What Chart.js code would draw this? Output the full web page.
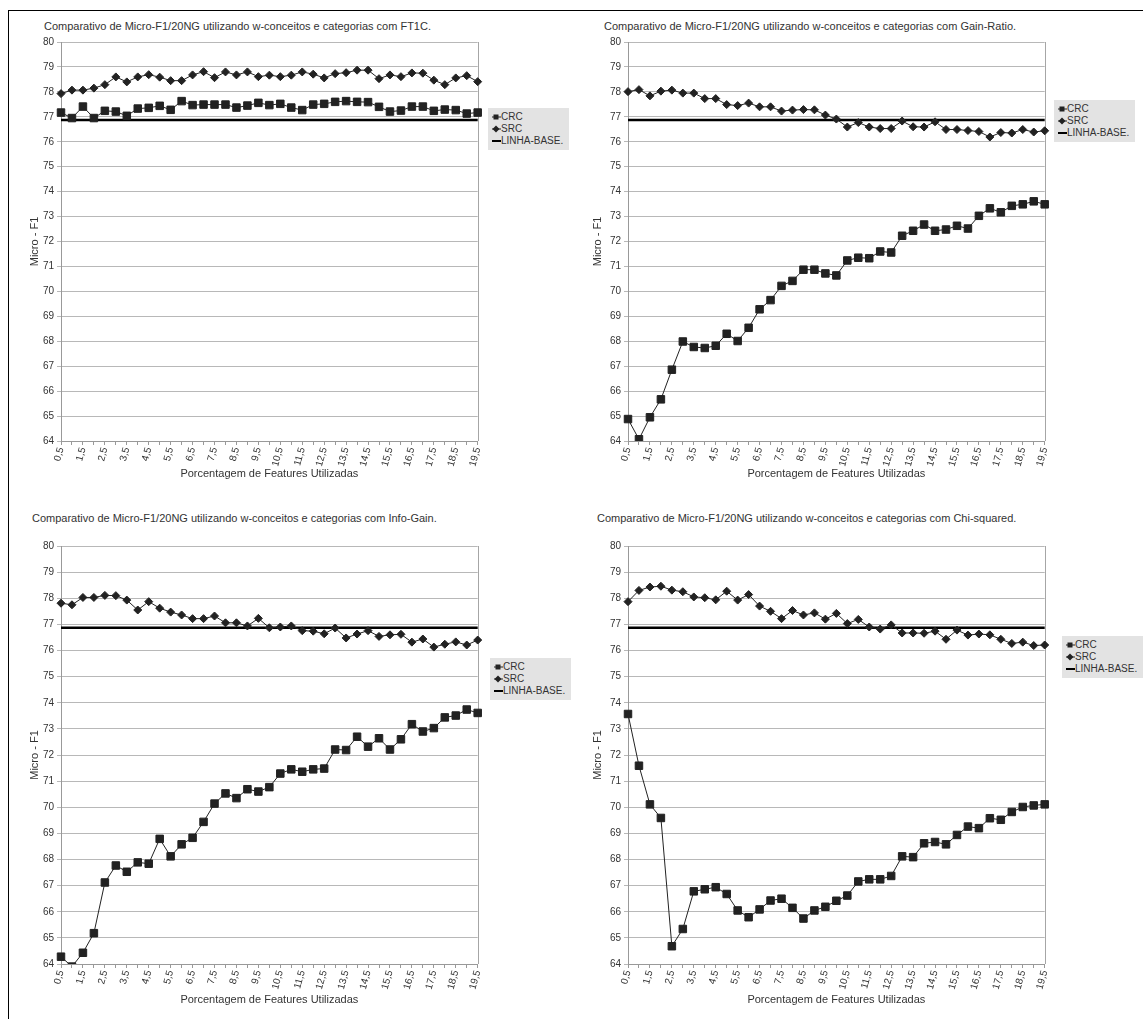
<!DOCTYPE html>
<html><head><meta charset="utf-8">
<script src="https://cdn.jsdelivr.net/npm/chart.js@4/dist/chart.umd.min.js"></script>
<style>
html,body{margin:0;padding:0;background:#fff;width:1143px;height:1019px;overflow:hidden;font-family:"Liberation Sans",Arial,sans-serif;}
#frame{position:absolute;left:8px;top:10px;width:1200px;height:1100px;border-left:1px solid #000;border-top:1px solid #000;}
canvas{position:absolute;}
.ttl{position:absolute;font-size:11px;color:#333;white-space:nowrap;line-height:13px;}
.lg{position:absolute;background:#e3e3e3;padding:3px 3px 3px 4px;font-size:10px;color:#333;line-height:12px;width:74px;}
.lg div{white-space:nowrap;height:12px;}
.lg svg{vertical-align:-1px;}
</style></head><body>
<div id="frame"></div>

<div class="ttl" id="t1" style="left:44px;top:20px;"></div>
<div class="ttl" id="t2" style="left:604px;top:20px;"></div>
<div class="ttl" id="t3" style="left:32px;top:512px;"></div>
<div class="ttl" id="t4" style="left:597px;top:512px;"></div>

<canvas id="c1"></canvas>
<canvas id="c2"></canvas>
<canvas id="c3"></canvas>
<canvas id="c4"></canvas>

<div class="lg" id="lg1" style="left:488px;top:108px;"></div>
<div class="lg" id="lg2" style="left:1054px;top:100px;"></div>
<div class="lg" id="lg3" style="left:490px;top:658px;"></div>
<div class="lg" id="lg4" style="left:1062px;top:636px;"></div>

<script>
// ---------- DATA ----------
const categories = ['0,5','1','1,5','2','2,5','3','3,5','4','4,5','5','5,5','6','6,5','7','7,5','8','8,5','9','9,5','10',
  '10,5','11','11,5','12','12,5','13','13,5','14','14,5','15','15,5','16','16,5','17','17,5','18','18,5','19','19,5'];

const seriesNames = ['CRC', 'SRC', 'LINHA-BASE.'];

const chartTitles = [
  'Comparativo de Micro-F1/20NG utilizando w-conceitos e categorias com FT1C.',
  'Comparativo de Micro-F1/20NG utilizando w-conceitos e categorias com Gain-Ratio.',
  'Comparativo de Micro-F1/20NG utilizando w-conceitos e categorias com Info-Gain.',
  'Comparativo de Micro-F1/20NG utilizando w-conceitos e categorias com Chi-squared.'
];
const xTitle = 'Porcentagem de Features Utilizadas';
const yTitle = 'Micro - F1';
const yMin = 64, yMax = 80, yStep = 1;

const baseline = [76.87,76.87,76.87,76.87,76.87,76.87,76.87,76.87,76.87,76.87,76.87,76.87,76.87,76.87,76.87,76.87,76.87,76.87,76.87,76.87,
  76.87,76.87,76.87,76.87,76.87,76.87,76.87,76.87,76.87,76.87,76.87,76.87,76.87,76.87,76.87,76.87,76.87,76.87,76.87];

const ft1cCRC = [77.17,76.95,77.41,76.95,77.24,77.21,77.04,77.33,77.36,77.44,77.28,77.63,77.47,77.49,77.49,77.49,77.37,77.45,77.56,77.47,
  77.52,77.37,77.27,77.49,77.52,77.60,77.63,77.60,77.59,77.40,77.21,77.25,77.41,77.41,77.24,77.29,77.27,77.13,77.17];
const ft1cSRC = [77.93,78.07,78.07,78.15,78.29,78.60,78.40,78.60,78.69,78.59,78.45,78.45,78.68,78.81,78.57,78.80,78.68,78.80,78.61,78.67,
  78.61,78.67,78.80,78.71,78.56,78.73,78.77,78.87,78.87,78.53,78.68,78.61,78.76,78.75,78.47,78.29,78.56,78.65,78.41];

const gainRatioCRC = [64.88,64.07,64.95,65.67,66.86,67.99,67.77,67.73,67.82,68.30,68.01,68.54,69.28,69.65,70.22,70.42,70.87,70.87,70.72,70.64,
  71.24,71.35,71.33,71.60,71.56,72.23,72.43,72.68,72.43,72.48,72.63,72.52,73.03,73.33,73.17,73.43,73.49,73.61,73.49];
const gainRatioSRC = [78.01,78.09,77.84,78.03,78.07,77.95,77.95,77.73,77.73,77.49,77.45,77.55,77.40,77.40,77.23,77.27,77.29,77.28,77.07,76.91,
  76.59,76.77,76.59,76.53,76.53,76.83,76.60,76.59,76.80,76.49,76.49,76.45,76.41,76.19,76.37,76.35,76.49,76.39,76.44];

const infoGainCRC = [64.28,63.90,64.43,65.18,67.12,67.77,67.53,67.89,67.84,68.79,68.12,68.58,68.83,69.44,70.14,70.53,70.35,70.69,70.60,70.77,
  71.29,71.45,71.36,71.45,71.48,72.21,72.19,72.70,72.32,72.64,72.21,72.60,73.18,72.90,73.03,73.44,73.51,73.74,73.61];
const infoGainSRC = [77.81,77.75,78.03,78.03,78.11,78.10,77.93,77.55,77.87,77.62,77.47,77.36,77.22,77.22,77.32,77.06,77.06,76.94,77.23,76.87,
  76.90,76.94,76.76,76.74,76.64,76.86,76.48,76.63,76.76,76.54,76.60,76.62,76.32,76.44,76.13,76.24,76.33,76.21,76.40];

const chiSquaredCRC = [73.57,71.59,70.11,69.59,64.68,65.34,66.78,66.86,66.94,66.68,66.05,65.79,66.09,66.43,66.50,66.15,65.74,66.05,66.19,66.42,
  66.62,67.16,67.24,67.24,67.37,68.12,68.09,68.62,68.67,68.58,68.94,69.26,69.20,69.58,69.52,69.82,70.01,70.07,70.11];
const chiSquaredSRC = [77.87,78.30,78.43,78.46,78.31,78.25,78.05,78.02,77.94,78.27,77.93,78.14,77.70,77.50,77.22,77.53,77.36,77.44,77.20,77.42,
  77.03,77.19,76.90,76.82,76.98,76.67,76.67,76.66,76.74,76.43,76.78,76.59,76.63,76.60,76.43,76.27,76.32,76.19,76.21];

// ---------- LAYOUT (canvas placement, plot sizes) ----------
const layouts = [
  {id:'c1', left:24,  top:35,  w:460, h:450, yw:37, xh:44},
  {id:'c2', left:587, top:35,  w:464, h:450, yw:41, xh:44},
  {id:'c3', left:24,  top:539, w:460, h:472, yw:37, xh:47},
  {id:'c4', left:587, top:539, w:464, h:472, yw:41, xh:47}
];
const dataSets = [
  [ft1cCRC, ft1cSRC],
  [gainRatioCRC, gainRatioSRC],
  [infoGainCRC, infoGainSRC],
  [chiSquaredCRC, chiSquaredSRC]
];

Chart.defaults.font.family = '"Liberation Sans", Arial, sans-serif';
Chart.defaults.color = '#333';

const framePlugin = {
  id: 'frameRight',
  beforeDatasetsDraw(chart) {
    const a = chart.chartArea, ctx = chart.ctx;
    ctx.save();
    ctx.strokeStyle = '#a6a6a6';
    ctx.lineWidth = 1;
    ctx.beginPath();
    ctx.moveTo(Math.round(a.right) + 0.5, a.top);
    ctx.lineTo(Math.round(a.right) + 0.5, a.bottom);
    ctx.stroke();
    ctx.restore();
  }
};

const markColor = '#222222';

layouts.forEach((g, k) => {
  const cv = document.getElementById(g.id);
  cv.width = g.w; cv.height = g.h;
  cv.style.left = g.left + 'px'; cv.style.top = g.top + 'px';
  cv.style.width = g.w + 'px'; cv.style.height = g.h + 'px';
  document.getElementById('t' + (k + 1)).textContent = chartTitles[k];
  const [crc, src] = dataSets[k];
  new Chart(cv.getContext('2d'), {
    type: 'line',
    data: {
      labels: categories,
      datasets: [
        {label: seriesNames[0], data: crc, borderColor: markColor, backgroundColor: markColor, borderWidth: 1,
         pointStyle: 'rect', pointRadius: 5.3, pointBorderWidth: 1, pointBackgroundColor: markColor, pointBorderColor: markColor, tension: 0},
        {label: seriesNames[1], data: src, borderColor: markColor, backgroundColor: markColor, borderWidth: 1,
         pointStyle: 'rectRot', pointRadius: 4, pointBorderWidth: 1, pointBackgroundColor: markColor, pointBorderColor: markColor, tension: 0},
        {label: seriesNames[2], data: baseline, borderColor: '#000', borderWidth: 2.6, pointRadius: 0, tension: 0}
      ]
    },
    options: {
      responsive: false,
      animation: false,
      devicePixelRatio: 1,
      layout: {padding: {top: 7, right: 2, left: 0, bottom: 0}},
      plugins: {legend: {display: false}, title: {display: false}, tooltip: {enabled: false}},
      scales: {
        x: {
          type: 'category',
          offset: false,
          grid: {display: true, drawOnChartArea: false, drawTicks: true, tickLength: 4, color: '#999'},
          border: {display: true, color: '#999'},
          ticks: {autoSkip: false, minRotation: 75, maxRotation: 75, font: {size: 10}, color: '#333', padding: 1,
                  callback: (v, i) => (i % 2 === 0 ? categories[i] : '')},
          title: {display: true, text: xTitle, font: {size: 11}, color: '#333', padding: {top: 2, bottom: 4}},
          afterFit: s => { s.height = g.xh; s.paddingLeft = 0; s.paddingRight = 0; }
        },
        y: {
          min: yMin, max: yMax,
          ticks: {stepSize: yStep, font: {size: 10}, color: '#333', padding: 3},
          grid: {color: '#b8b8b8', tickLength: 4},
          border: {color: '#999'},
          title: {display: true, text: yTitle, font: {size: 11}, color: '#333'},
          afterFit: s => { s.width = g.yw; s.paddingTop = 0; s.paddingBottom = 0; }
        }
      }
    },
    plugins: [framePlugin]
  });

  // legend
  const lg = document.getElementById('lg' + (k + 1));
  const icons = [
    '<svg width="9" height="8"><line x1="0" y1="4" x2="9" y2="4" stroke="#222" stroke-width="1"/><rect x="1.5" y="1.5" width="5" height="5" fill="#222"/></svg>',
    '<svg width="9" height="8"><line x1="0" y1="4" x2="9" y2="4" stroke="#222" stroke-width="1"/><polygon points="4,0.5 7.5,4 4,7.5 0.5,4" fill="#222"/></svg>',
    '<svg width="9" height="8"><line x1="0" y1="4" x2="9" y2="4" stroke="#000" stroke-width="2"/></svg>'
  ];
  seriesNames.forEach((n, i) => {
    const d = document.createElement('div');
    d.innerHTML = icons[i];
    d.appendChild(document.createTextNode(n));
    lg.appendChild(d);
  });
});
</script>
</body></html>
